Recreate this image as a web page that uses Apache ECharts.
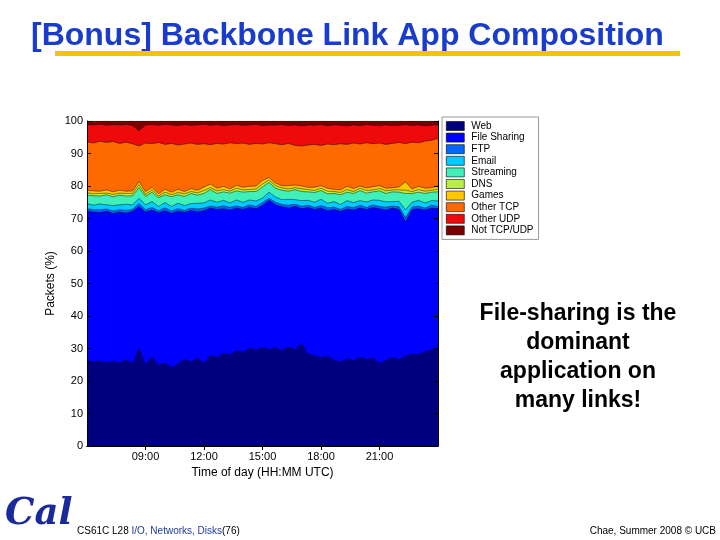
<!DOCTYPE html>
<html><head><meta charset="utf-8">
<script src="https://cdn.jsdelivr.net/npm/echarts@6/dist/echarts.min.js"></script>
<style>html,body{margin:0;padding:0;background:#fff}#c{width:720px;height:540px}</style>
</head><body><div id="c"></div>
<script>
// Sample times (every 20 minutes, UTC)
const times = ['06:00','06:20','06:40','07:00','07:20','07:40','08:00','08:20','08:40','09:00','09:20','09:40','10:00','10:20','10:40','11:00','11:20','11:40','12:00','12:20','12:40','13:00','13:20','13:40','14:00','14:20','14:40','15:00','15:20','15:40','16:00','16:20','16:40','17:00','17:20','17:40','18:00','18:20','18:40','19:00','19:20','19:40','20:00','20:20','20:40','21:00','21:20','21:40','22:00','22:20','22:40','23:00','23:20','23:40','24:00'];
const xTickLabels = ['09:00','12:00','15:00','18:00','21:00'];
const categories = ['Web','File Sharing','FTP','Email','Streaming','DNS','Games','Other TCP','Other UDP','Not TCP/UDP'];

// Cumulative packet share (%) = top edge of each stacked band
const webCum = [26.5,26.0,26.3,25.8,26.2,25.6,26.8,25.5,30.5,25.2,27.6,25.0,25.8,24.3,25.5,26.8,26.0,27.2,25.6,28.0,27.5,28.6,28.2,29.5,29.0,30.2,29.6,30.5,29.8,30.4,29.5,30.6,29.8,31.8,28.5,28.0,27.3,27.8,26.6,26.0,27.0,26.4,27.5,26.8,27.2,25.6,26.5,27.4,26.8,27.8,28.5,28.2,29.2,29.6,30.5];
const fileSharingCum = [72.2,72.0,71.8,72.3,71.5,72.0,71.6,72.2,73.6,72.0,72.6,71.8,72.4,71.6,72.2,71.9,72.5,72.0,72.4,73.2,72.8,73.0,72.6,73.2,72.8,73.4,73.0,74.0,75.6,74.2,73.6,73.2,73.8,73.0,73.4,72.8,73.2,72.4,72.8,72.2,72.9,72.6,73.2,72.8,73.4,73.0,72.6,73.2,72.8,69.0,72.8,73.0,72.6,73.2,73.0];
const ftpCum = [73.0,72.7,72.7,72.9,72.3,72.7,72.5,72.8,74.6,72.7,73.4,72.4,73.3,72.3,73.0,72.5,73.2,72.9,73.2,73.8,73.5,73.9,73.4,73.9,73.4,74.2,73.7,74.9,76.2,75.0,74.3,74.1,74.4,73.8,74.1,73.4,74.0,73.3,73.5,72.8,73.7,73.3,74.1,73.4,74.2,73.7,73.5,73.8,73.6,70.2,73.5,73.8,73.2,74.1,73.7];
const emailCum = [74.6,74.1,74.5,74.2,74.0,74.2,74.4,74.2,76.2,74.2,75.2,73.7,74.9,73.7,74.7,74.0,74.6,74.7,74.8,75.7,75.0,75.6,74.8,75.7,75.0,75.7,75.4,76.3,78.1,76.6,75.8,75.9,75.8,75.5,75.6,75.0,75.9,74.7,75.2,74.3,75.5,74.9,75.5,75.1,75.7,75.6,75.1,75.2,75.3,72.7,75.0,75.6,74.8,75.5,75.4];
const streamingCum = [77.2,77.0,76.9,77.3,76.7,77.2,76.9,77.0,79.5,76.8,78.1,76.4,77.3,76.7,77.3,76.8,77.7,77.2,77.7,78.9,77.7,78.2,77.8,78.5,78.1,78.3,78.3,79.7,81.1,79.3,78.7,78.4,78.9,78.3,78.2,78.0,78.6,77.6,77.7,77.3,78.1,77.7,78.6,77.8,78.2,78.5,77.7,78.2,78.1,77.7,77.7,78.1,77.7,78.1,78.2];
const dnsCum = [77.9,77.6,77.7,77.8,77.4,77.8,77.7,77.7,80.4,77.4,78.8,76.9,78.1,77.3,78.0,77.6,78.3,77.9,78.6,79.5,78.5,78.9,78.4,79.3,78.8,78.9,79.1,80.6,81.8,80.1,79.4,79.1,79.5,79.1,78.9,78.6,79.3,78.4,78.3,78.0,78.9,78.3,79.3,78.6,78.8,79.2,78.5,78.8,78.8,78.7,78.3,78.9,78.4,78.7,79.0];
const gamesCum = [78.7,78.5,78.4,78.8,78.2,78.7,78.4,78.5,81.4,78.3,79.6,77.6,79.0,78.1,79.0,78.3,79.2,78.7,79.7,80.6,79.3,79.9,79.1,80.2,79.6,79.9,80.0,81.7,82.6,80.9,80.1,80.1,80.3,80.0,79.6,79.6,80.1,79.3,79.0,78.8,79.9,79.2,80.0,79.4,79.8,80.1,79.3,79.5,79.7,81.3,79.1,79.9,79.3,79.5,80.0];
const otherTcpCum = [93.6,93.2,93.8,93.4,93.7,93.1,93.5,93.0,92.3,93.2,93.0,93.4,92.8,93.1,92.6,92.9,93.2,92.8,93.0,92.7,93.1,92.9,93.3,93.0,93.2,92.8,93.1,92.9,93.3,93.0,92.7,93.1,92.5,92.3,92.6,92.8,92.5,92.9,92.7,93.0,92.8,93.2,92.9,93.3,93.0,93.2,92.8,93.1,93.4,93.0,93.5,93.3,93.8,94.1,94.6];
const otherUdpCum = [98.9,98.8,99.0,98.7,98.9,98.8,99.0,98.6,97.0,98.8,98.9,98.7,99.0,98.8,98.6,98.9,98.7,98.8,99.0,98.7,98.9,98.6,98.8,98.9,98.7,98.8,99.0,98.6,98.8,98.7,98.9,98.6,98.8,98.5,98.8,98.7,98.9,98.6,98.8,98.7,98.5,98.8,98.6,98.9,98.7,98.5,98.8,98.6,98.7,98.9,98.6,98.8,98.5,98.7,98.8];
const notTcpUdpCum = [100,100,100,100,100,100,100,100,100,100,100,100,100,100,100,100,100,100,100,100,100,100,100,100,100,100,100,100,100,100,100,100,100,100,100,100,100,100,100,100,100,100,100,100,100,100,100,100,100,100,100,100,100,100,100];

const bandData = [webCum, fileSharingCum, ftpCum, emailCum, streamingCum, dnsCum, gamesCum, otherTcpCum, otherUdpCum, notTcpUdpCum];
const bandColors = ['#00007f','#0000ff','#0066ff','#00ccff','#40f0b8','#b8f040','#ffc800','#ff6a00','#ee0a0a','#7a0000'];

const FONT = '"Liberation Sans", Arial, Helvetica, sans-serif';

// draw top bands first so lower bands overlay them
const series = [];
for (let k = categories.length - 1; k >= 0; k--) {
  series.push({
    name: categories[k], type: 'line', data: bandData[k],
    symbol: 'none', showSymbol: false, smooth: false, animation: false,
    color: bandColors[k], itemStyle: { color: bandColors[k] },
    lineStyle: { color: '#000', width: k === 0 ? 0 : 0.6, opacity: 0.75 },
    areaStyle: { color: bandColors[k], opacity: 1 },
    emphasis: { disabled: true }
  });
}

const tickFn = (idx, val) => xTickLabels.indexOf(val) >= 0;

const chart = echarts.init(document.getElementById('c'), null, { renderer: 'canvas' });
chart.setOption({
  backgroundColor: '#fff',
  animation: false,
  textStyle: { fontFamily: FONT },
  grid: { left: 87, top: 121, width: 351, height: 325, containLabel: false },
  legend: {
    data: categories, orient: 'vertical', left: 442, top: 117,
    icon: 'rect', itemWidth: 18, itemHeight: 9, itemGap: 1.6,
    padding: [4, 5, 4, 4], borderColor: '#999', borderWidth: 1,
    backgroundColor: '#fff', selectedMode: false,
    itemStyle: { borderColor: '#000', borderWidth: 0.6 },
    textStyle: { fontSize: 10, lineHeight: 10, color: '#000', fontFamily: FONT, padding: [0, 0, 0, 2] }
  },
  xAxis: [{
    type: 'category', data: times, boundaryGap: false, z: 5,
    axisLine: { show: true, lineStyle: { color: '#000', width: 1 } },
    axisTick: { show: true, inside: true, length: 4, interval: tickFn, lineStyle: { color: '#000' } },
    axisLabel: { interval: tickFn, fontSize: 11, color: '#000', margin: 5, fontFamily: FONT },
    splitLine: { show: false },
    name: 'Time of day (HH:MM UTC)', nameLocation: 'middle', nameGap: 17,
    nameTextStyle: { fontSize: 12, color: '#000', fontFamily: FONT }
  }, {
    type: 'category', data: times, boundaryGap: false, position: 'top', z: 5,
    axisLine: { show: true, lineStyle: { color: '#000', width: 1 } },
    axisTick: { show: true, inside: true, length: 4, interval: tickFn, lineStyle: { color: '#000' } },
    axisLabel: { show: false }, splitLine: { show: false }
  }],
  yAxis: [{
    type: 'value', min: 0, max: 100, interval: 10, z: 5,
    axisLine: { show: true, lineStyle: { color: '#000', width: 1 } },
    axisTick: { show: true, inside: true, length: 4, lineStyle: { color: '#000' } },
    axisLabel: { fontSize: 11, color: '#000', margin: 4, fontFamily: FONT },
    splitLine: { show: false },
    name: 'Packets (%)', nameLocation: 'middle', nameGap: 30, nameRotate: 90,
    nameTextStyle: { fontSize: 12, color: '#000', fontFamily: FONT }
  }, {
    type: 'value', min: 0, max: 100, interval: 10, position: 'right', z: 5,
    axisLine: { show: true, lineStyle: { color: '#000', width: 1 } },
    axisTick: { show: true, inside: true, length: 4, lineStyle: { color: '#000' } },
    axisLabel: { show: false }, splitLine: { show: false }
  }],
  series: series,
  graphic: [
    { type: 'text', x: 31, y: 36, style: { text: '[Bonus] Backbone Link App Composition', font: 'bold 32px ' + FONT, fill: '#1a3ccc', verticalAlign: 'middle' } },
    { type: 'rect', shape: { x: 55, y: 51, width: 625, height: 5 }, style: { fill: '#f4c400' } },
    { type: 'text', x: 578, y: 299, style: { text: 'File-sharing is the\ndominant\napplication on\nmany links!', font: 'bold 23px ' + FONT, fill: '#000', align: 'center', verticalAlign: 'top', lineHeight: 29 } },
    { type: 'text', x: 5, y: 514, style: { text: 'Cal', font: 'italic bold 37px "DejaVu Serif", serif', fill: '#1a2a9a', verticalAlign: 'middle' } },
    { type: 'text', x: 77, y: 531, style: { text: '{k|CS61C L28 }{b|I/O, Networks, Disks}{k|(76)}', font: '10px ' + FONT, verticalAlign: 'middle', rich: { k: { fill: '#000', fontSize: 10 }, b: { fill: '#1f3aa0', fontSize: 10 } } } },
    { type: 'text', x: 716, y: 531, style: { text: 'Chae, Summer 2008 \u00A9 UCB', font: '10px ' + FONT, fill: '#000', align: 'right', verticalAlign: 'middle' } }
  ]
});
</script>
</body></html>
